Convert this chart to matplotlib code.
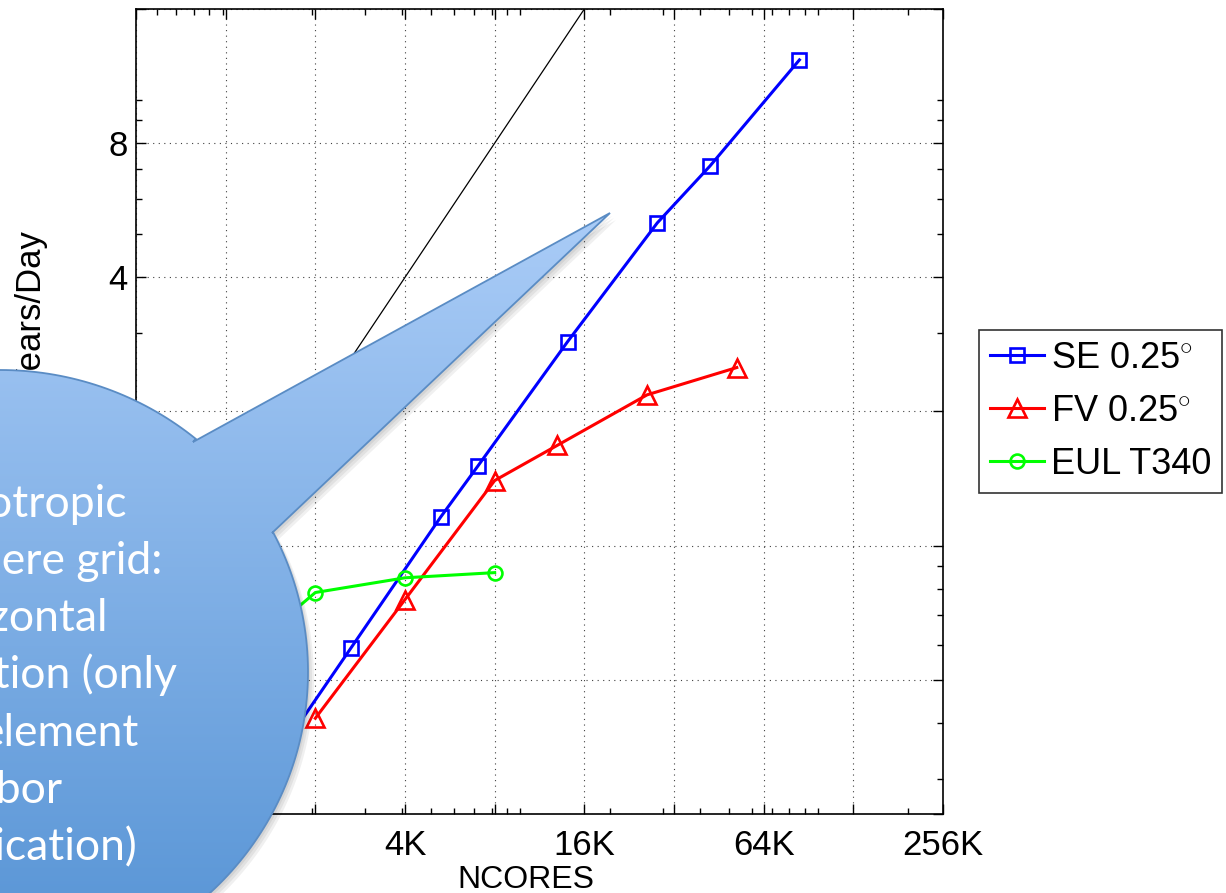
import numpy as np
import matplotlib
matplotlib.use("Agg")
import matplotlib.pyplot as plt
from matplotlib.path import Path
from matplotlib.patches import PathPatch
from matplotlib.ticker import FixedLocator, FixedFormatter, LogLocator, NullFormatter

# data (cores, simulated years per day)
se_cores = [1350, 2700, 5400, 7200, 14400, 28800, 43200, 86400]
se_ypd = [0.30, 0.59, 1.16, 1.51, 2.87, 5.3, 7.1, 12.3]

fv_cores = [2048, 4096, 8192, 13312, 26624, 53248]
fv_ypd = [0.41, 0.757, 1.40, 1.68, 2.18, 2.51]

eul_cores = [1024, 2048, 4096, 8192]
eul_ypd = [0.53, 0.785, 0.847, 0.870]

# perfect scaling reference line
ideal_cores = [512, 16384]
ideal_ypd = [0.5, 16]

xticks = [512, 1024, 2048, 4096, 8192, 16384, 32768, 65536, 131072, 262144]
xticklabels = ["", "1K", "", "4K", "", "16K", "", "64K", "", "256K"]
yticks = [0.25, 0.5, 1, 2, 4, 8, 16]
yticklabels = ["0.25", "0.5", "1", "2", "4", "8", ""]

callout_lines = ["Isotropic", "cubed-sphere grid:", "horizontal",
                 "resolution (only", "element", "neighbor", "communication)"]

plt.rcParams['font.family'] = ['Liberation Sans', 'DejaVu Sans']
plt.rcParams['mathtext.fontset'] = 'custom'
plt.rcParams['mathtext.rm'] = 'Liberation Sans'

W, H = 1226, 893
fig = plt.figure(figsize=(W / 100, H / 100), dpi=100)
ax = fig.add_axes([136 / W, 1 - 814 / H, (943 - 136) / W, (814 - 9) / H])

ax.plot(ideal_cores, ideal_ypd, color='black', lw=0.9)
ax.plot(se_cores, se_ypd, color='#0000ff', lw=2.2, marker='s', ms=10,
        mfc='none', mew=1.9, label='SE 0.25$^{\\circ}$')
ax.plot(fv_cores, fv_ypd, color='#ff0000', lw=2.2, marker='^', ms=12.5,
        mfc='none', mew=1.9, label='FV 0.25$^{\\circ}$')
ax.plot(eul_cores, eul_ypd, color='#00ff00', lw=2.2, marker='o', ms=10,
        mfc='none', mew=1.9, label='EUL T340')

ax.set_xscale('log')
ax.set_yscale('log')
ax.set_xlim(512, 262144)
ax.set_ylim(0.25, 16)
ax.xaxis.set_major_locator(FixedLocator(xticks))
ax.xaxis.set_major_formatter(FixedFormatter(xticklabels))
ax.yaxis.set_major_locator(FixedLocator(yticks))
ax.yaxis.set_major_formatter(FixedFormatter(yticklabels))
ax.xaxis.set_minor_locator(LogLocator(base=10, subs=np.arange(1, 10)))
ax.yaxis.set_minor_locator(LogLocator(base=10, subs=np.arange(1, 10)))
ax.xaxis.set_minor_formatter(NullFormatter())
ax.yaxis.set_minor_formatter(NullFormatter())
ax.tick_params(which='both', direction='in', top=True, right=True,
               labelsize=25, width=1)
ax.tick_params(which='major', length=7)
ax.tick_params(which='minor', length=4)
ax.tick_params(axis='x', pad=11)
ax.tick_params(axis='y', pad=6)
ax.grid(True, which='major', linestyle=(0, (1, 4)), color='0.25', lw=0.8)
for s in ax.spines.values():
    s.set_linewidth(1.2)

ax.set_xlabel('NCORES', fontsize=23, labelpad=-2)
ax.xaxis.set_label_coords(0.483, -0.063)
ax.set_ylabel('Simulated Years/Day', fontsize=25)
ax.yaxis.set_label_coords(-0.109, 0.523)

ax.legend(loc='center left', bbox_to_anchor=(979 / W, 1 - 411.5 / H),
          bbox_transform=fig.transFigure, fontsize=26, frameon=True,
          fancybox=False, edgecolor='black', borderaxespad=0,
          handlelength=1.5, handletextpad=0.2, borderpad=0.3,
          labelspacing=0.5)
ax.get_legend().get_frame().set_linewidth(1.2)

# speech-bubble callout drawn over the chart, in pixel coordinates
ov = fig.add_axes([0, 0, 1, 1], zorder=10)
ov.patch.set_alpha(0)
ov.axis('off')

cx, cy, ra, rb = 0, 672, 308, 302
notch1 = (193, 442)
tip = (610, 213)
notch2 = (272, 533)
t0 = np.arctan2((notch2[1] - cy) / rb, (notch2[0] - cx) / ra)
t1 = np.arctan2((notch1[1] - cy) / rb, (notch1[0] - cx) / ra) + 2 * np.pi
tt = np.linspace(t0, t1, 300)
verts = [notch1, tip, notch2] + list(zip(cx + ra * np.cos(tt), cy + rb * np.sin(tt)))
verts.append(notch1)
codes = [Path.MOVETO] + [Path.LINETO] * (len(verts) - 2) + [Path.CLOSEPOLY]
bubble = Path(verts, codes)

# soft drop shadow
for dx, dy in [(6, 7), (4, 5), (2, 3)]:
    sh = Path(np.array(verts) + [dx, dy], codes)
    ov.add_patch(PathPatch(sh, facecolor='black', edgecolor='none',
                           alpha=0.06, zorder=1))

top_col = np.array([170, 204, 247]) / 255
bot_col = np.array([84, 146, 212]) / 255
frac = np.linspace(0, 1, 256)[:, None, None]
grad = top_col * (1 - frac) + bot_col * frac
im = ov.imshow(grad, extent=(0, 620, 974, 213), origin='upper',
               aspect='auto', interpolation='bilinear', zorder=2)
edge = PathPatch(bubble, facecolor='none', edgecolor='#5a8cc4', lw=1.3,
                 zorder=3)
ov.add_patch(edge)
im.set_clip_path(edge)

right_ends = [127, 162, 108, 177, 138, 63, 137]
baselines = [517, 574, 631, 688, 746, 803, 860]
for s, xr, yb in zip(callout_lines, right_ends, baselines):
    ov.text(xr, yb, s, ha='right', va='baseline', color='white',
            fontsize=32, family=['Lato', 'DejaVu Sans'], zorder=4)

ov.set_xlim(0, W)
ov.set_ylim(H, 0)

fig.savefig('out.png', dpi=100)
